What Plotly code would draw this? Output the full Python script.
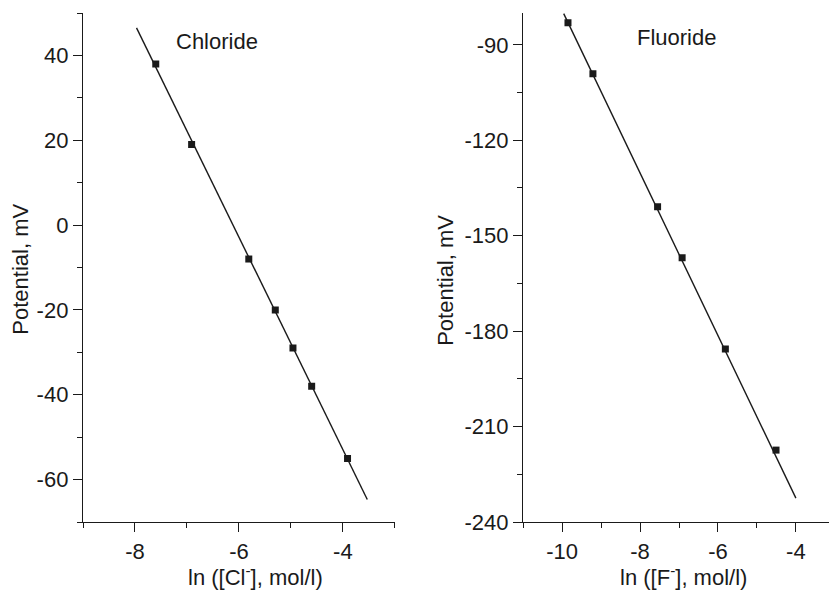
import plotly.graph_objects as go

# Chloride data
cl_x = [-7.6, -6.91, -5.81, -5.30, -4.96, -4.60, -3.91]
cl_y = [38, 19, -8, -20, -29, -38, -55]
cl_fit_x = [-7.97, -3.53]
cl_fit_y = [46.5, -64.7]

# Fluoride data
f_x = [-9.85, -9.21, -7.55, -6.92, -5.81, -4.51]
f_y = [-83.1, -99.1, -140.9, -156.9, -185.6, -217.4]
f_fit_x = [-9.96, -4.0]
f_fit_y = [-80.2, -232.5]

# Tick labels
cl_xticks = [-8, -6, -4]
cl_yticks = [-60, -40, -20, 0, 20, 40]
f_xticks = [-10, -8, -6, -4]
f_yticks = [-240, -210, -180, -150, -120, -90]

W, H = 829, 591
L, R, T, B = 83.3, 0, 13.3, 69.3
pw = W - L - R
ph = H - T - B

def px(x):
    return (x - L) / pw

def py(y):
    return (H - B - y) / ph

FONT = "Liberation Sans, Arial, sans-serif"
INK = "#1a1a1a"

fig = go.Figure()
fig.add_trace(go.Scatter(x=cl_fit_x, y=cl_fit_y, mode="lines",
                         line=dict(color=INK, width=1.4), xaxis="x", yaxis="y", showlegend=False))
fig.add_trace(go.Scatter(x=cl_x, y=cl_y, mode="markers",
                         marker=dict(symbol="square", size=7, color=INK), xaxis="x", yaxis="y", showlegend=False))
fig.add_trace(go.Scatter(x=f_fit_x, y=f_fit_y, mode="lines",
                         line=dict(color=INK, width=1.4), xaxis="x2", yaxis="y2", showlegend=False))
fig.add_trace(go.Scatter(x=f_x, y=f_y, mode="markers",
                         marker=dict(symbol="square", size=7, color=INK), xaxis="x2", yaxis="y2", showlegend=False))

axis_common = dict(showgrid=False, zeroline=False, showline=True, linecolor=INK, linewidth=1.4,
                   ticks="outside", ticklen=9, tickwidth=1.4, tickcolor=INK,
                   tickfont=dict(family=FONT, size=22, color=INK))

def lab(vals):
    return [str(v) for v in vals]

fig.update_layout(
    width=W, height=H,
    margin=dict(l=L, r=R, t=T, b=B, pad=0),
    paper_bgcolor="white", plot_bgcolor="white",
    font=dict(family=FONT, size=22, color=INK),
    xaxis=dict(domain=[0, px(395)], range=[-9, -3], tickmode="array",
               tickvals=cl_xticks, ticktext=lab(cl_xticks),
               minor=dict(tickmode="linear", tick0=-9, dtick=1, ticks="outside", ticklen=5, tickwidth=1.4, tickcolor=INK),
               anchor="y", **axis_common),
    yaxis=dict(domain=[0, 1], range=[-70, 50], tickmode="array",
               tickvals=cl_yticks, ticktext=lab(cl_yticks),
               minor=dict(tickmode="linear", tick0=-70, dtick=10, ticks="outside", ticklen=5, tickwidth=1.4, tickcolor=INK),
               anchor="x", **axis_common),
    xaxis2=dict(domain=[px(523.3), 1], range=[-11, -3.15], tickmode="array",
                tickvals=f_xticks, ticktext=lab(f_xticks),
                minor=dict(tickmode="linear", tick0=-11, dtick=1, ticks="outside", ticklen=5, tickwidth=1.4, tickcolor=INK),
                anchor="y2", **axis_common),
    yaxis2=dict(domain=[0, 1], range=[-240, -80], tickmode="array",
                tickvals=f_yticks, ticktext=lab(f_yticks),
                minor=dict(tickmode="linear", tick0=-240, dtick=15, ticks="outside", ticklen=5, tickwidth=1.4, tickcolor=INK),
                anchor="x2", **axis_common),
)

ann = [
    dict(text="Chloride", x=px(217), y=py(42)),
    dict(text="Fluoride", x=px(676.7), y=py(38)),
    dict(text="ln ([Cl<sup>-</sup>], mol/l)", x=px(255.5), y=py(576)),
    dict(text="ln ([F<sup>-</sup>], mol/l)", x=px(684), y=py(576)),
    dict(text="Potential, mV", x=px(20), y=py(269), textangle=-90),
    dict(text="Potential, mV", x=px(445), y=py(280), textangle=-90),
]
for a in ann:
    fig.add_annotation(xref="paper", yref="paper", showarrow=False,
                       xanchor="center", yanchor="middle",
                       font=dict(family=FONT, size=22, color=INK), **a)

fig.write_html("out.html")
